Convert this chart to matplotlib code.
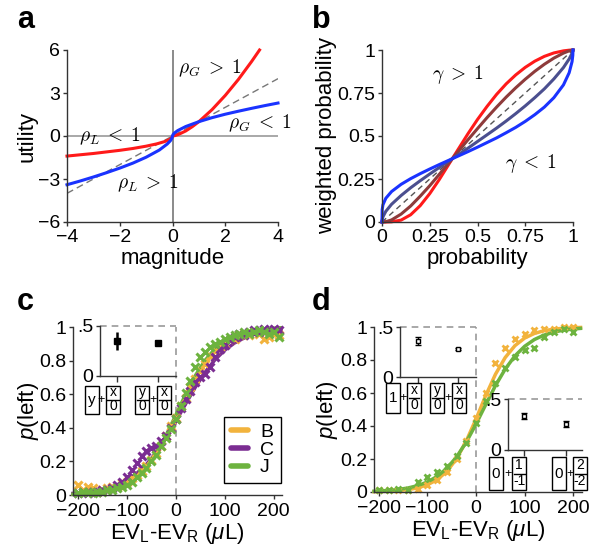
import matplotlib.pyplot as plt
from matplotlib.patches import Rectangle
from matplotlib.lines import Line2D

plt.rcParams['font.family'] = ['Liberation Sans', 'DejaVu Sans']
plt.rcParams['mathtext.fontset'] = 'custom'
plt.rcParams['mathtext.rm'] = 'Liberation Sans'
plt.rcParams['mathtext.it'] = 'Liberation Sans:italic'
plt.rcParams['mathtext.bf'] = 'Liberation Sans:bold'

# ---- panel a: utility curves
red_x = [-4, -3.5, -3, -2.5, -2, -1.5, -1, -0.6, -0.3, -0.1, -0.03, 0,
         0.1, 0.25, 0.5, 0.75, 1, 1.5, 2, 2.5, 3, 3.3]
red_y = [-1.40, -1.31, -1.22, -1.11, -1.00, -0.87, -0.71, -0.55, -0.39, -0.23, -0.13, 0,
         0.03, 0.13, 0.35, 0.65, 1.0, 1.84, 2.83, 3.95, 5.2, 6.0]
blue_x = [-4, -3.5, -3, -2.5, -2, -1.5, -1, -0.5, -0.2, -0.08, -0.02, 0,
          0.02, 0.08, 0.2, 0.5, 1, 1.5, 2, 2.5, 3, 3.5, 4]
blue_y = [-3.40, -3.14, -2.86, -2.56, -2.24, -1.89, -1.48, -0.98, -0.56, -0.33, -0.14, 0,
          0.10, 0.22, 0.38, 0.66, 1.0, 1.28, 1.52, 1.73, 1.93, 2.12, 2.30]

# ---- panel b: probability weighting curves
prob = [0, 0.001, 0.005, 0.02, 0.05, 0.1, 0.15, 0.2, 0.25, 0.3, 0.368, 0.45, 0.5,
        0.55, 0.6, 0.65, 0.7, 0.75, 0.8, 0.85, 0.9, 0.95, 0.98, 0.995, 0.999, 1]
w_red = [0, 0, 0, 0, 0.001, 0.011, 0.042, 0.095, 0.165, 0.247, 0.368, 0.513, 0.596,
         0.672, 0.742, 0.803, 0.855, 0.899, 0.935, 0.963, 0.983, 0.995, 0.999, 1.0, 1.0, 1]
w_brown = [0, 0, 0, 0.002, 0.012, 0.046, 0.093, 0.150, 0.211, 0.277, 0.368, 0.478, 0.543,
           0.607, 0.668, 0.726, 0.780, 0.830, 0.876, 0.917, 0.953, 0.982, 0.995, 0.999, 1.0, 1]
w_slate = [0, 0.014, 0.030, 0.062, 0.103, 0.154, 0.199, 0.240, 0.279, 0.317, 0.368, 0.429, 0.468,
           0.507, 0.546, 0.587, 0.630, 0.675, 0.723, 0.774, 0.832, 0.898, 0.948, 0.981, 0.994, 1]
w_blue = [0, 0.072, 0.100, 0.138, 0.177, 0.219, 0.252, 0.281, 0.308, 0.334, 0.368, 0.409, 0.435,
          0.462, 0.489, 0.519, 0.550, 0.585, 0.624, 0.668, 0.723, 0.797, 0.868, 0.932, 0.969, 1]

# ---- panel c: choice data for monkeys B, C, J
c_x = [-200, -190, -180, -170, -160, -150, -140, -130, -120, -110,
       -100, -90, -80, -70, -60, -50, -40, -30, -20, -10,
       0, 10, 20, 30, 40, 50, 60, 70, 80, 90,
       100, 110, 120, 130, 140, 150, 160, 170, 180, 190, 200, 210]
c_B = [0.06, 0.03, 0.05, 0.04, 0.02, 0.03, 0.04, 0.05, 0.05, 0.07,
       0.08, 0.10, 0.12, 0.14, 0.17, 0.21, 0.25, 0.29, 0.35, 0.41,
       0.46, 0.53, 0.58, 0.64, 0.69, 0.74, 0.78, 0.83, 0.86, 0.88,
       0.90, 0.92, 0.93, 0.95, 0.96, 0.95, 0.97, 0.96, 0.93, 0.94, 0.96, 0.95]
c_C = [0.01, 0.02, 0.01, 0.02, 0.02, 0.03, 0.03, 0.04, 0.06, 0.08,
       0.11, 0.15, 0.19, 0.23, 0.26, 0.28, 0.29, 0.32, 0.35, 0.40,
       0.45, 0.52, 0.57, 0.62, 0.67, 0.70, 0.72, 0.76, 0.82, 0.87,
       0.89, 0.92, 0.94, 0.96, 0.95, 0.97, 0.98, 0.97, 0.99, 0.98, 0.99, 0.98]
c_J = [0.01, 0.02, 0.02, 0.01, 0.02, 0.02, 0.03, 0.03, 0.04, 0.05,
       0.06, 0.08, 0.11, 0.13, 0.16, 0.20, 0.24, 0.29, 0.34, 0.39,
       0.45, 0.53, 0.61, 0.68, 0.76, 0.82, 0.85, 0.88, 0.90, 0.91,
       0.93, 0.94, 0.95, 0.96, 0.97, 0.96, 0.97, 0.98, 0.97, 0.96, 0.97, 0.94]
fit_x = [-210, -200, -180, -160, -140, -120, -100, -80, -60, -40, -20, 0,
         20, 40, 60, 80, 100, 120, 140, 160, 180, 200, 215]
c_fit_B = [0.0058, 0.0074, 0.0118, 0.0189, 0.030, 0.047, 0.074, 0.114, 0.172, 0.251, 0.350, 0.464,
           0.582, 0.692, 0.783, 0.853, 0.904, 0.938, 0.960, 0.975, 0.984, 0.990, 0.993]
c_fit_C = [0.0097, 0.0119, 0.018, 0.027, 0.040, 0.060, 0.088, 0.128, 0.182, 0.253, 0.339, 0.438,
           0.542, 0.642, 0.731, 0.805, 0.862, 0.905, 0.935, 0.956, 0.971, 0.980, 0.986]
c_fit_J = [0.0047, 0.0061, 0.0100, 0.0163, 0.0266, 0.043, 0.069, 0.109, 0.168, 0.250, 0.354, 0.475,
           0.599, 0.711, 0.802, 0.870, 0.917, 0.948, 0.968, 0.980, 0.988, 0.993, 0.995]
c_inset_mean = [0.35, 0.33]
c_inset_err = [0.09, 0.0]
c_terms = [['y'], ['x', '0'], ['y', '0'], ['x', '0']]

# ---- panel d
d_x = [-200, -180, -160, -140, -120, -100, -80, -60, -40, -20, 0,
       20, 40, 60, 80, 100, 120, 140, 160, 180, 200]
d_B = [0.01, 0.01, 0.01, 0.01, 0.02, 0.04, 0.07, 0.12, 0.20, 0.31, 0.45,
       0.60, 0.78, 0.87, 0.93, 0.96, 0.98, 0.99, 0.99, 1.0, 1.0]
d_J = [0.01, 0.01, 0.02, 0.01, 0.06, 0.09, 0.12, 0.16, 0.22, 0.30, 0.42,
       0.55, 0.66, 0.75, 0.82, 0.86, 0.87, 0.94, 0.97, 0.99, 0.97]
d_fit_B = [0.002, 0.0026, 0.0046, 0.0082, 0.0143, 0.0252, 0.0437, 0.0748, 0.125, 0.202, 0.310, 0.443,
           0.585, 0.714, 0.815, 0.887, 0.933, 0.961, 0.9775, 0.987, 0.9927, 0.9959, 0.9973]
d_fit_J = [0.0047, 0.0059, 0.0095, 0.0153, 0.0244, 0.0386, 0.0607, 0.0943, 0.1436, 0.2126, 0.303, 0.412,
           0.530, 0.645, 0.745, 0.825, 0.883, 0.924, 0.951, 0.969, 0.981, 0.988, 0.9915]
d_inset1_mean = [0.36, 0.28]
d_inset1_err = [0.04, 0.01]
d_terms1 = [['1'], ['x', '0'], ['y', '0'], ['x', '0']]
d_inset2_mean = [0.33, 0.255]
d_inset2_err = [0.03, 0.025]
d_terms2 = [['0'], ['1', '-1'], ['0'], ['2', '-2']]

RED, BLUE = '#FF1A1A', '#1A33FF'
BROWN, SLATE = '#8E3B3B', '#4B4F8F'
ORANGE, PURPLE, GREEN = '#F2B33D', '#7B2D92', '#6DB33F'
GRAY = '#9A9A9A'

W, H = 590, 548
fig = plt.figure(figsize=(W / 100, H / 100), dpi=100)


def px_axes(left, right, top, bottom):
    return fig.add_axes([left / W, 1 - bottom / H, (right - left) / W, (bottom - top) / H])


def style(ax, fs=14):
    for s in ['top', 'right']:
        ax.spines[s].set_visible(False)
    for s in ['left', 'bottom']:
        ax.spines[s].set_color('#333333')
        ax.spines[s].set_linewidth(1.0)
    ax.tick_params(direction='out', length=3, width=1, colors='#333333',
                   labelcolor='black', labelsize=fs, pad=2)
    ax.patch.set_visible(False)


def labels(ax, xl, yl, xy, yx):
    ax.set_xlabel(xl, fontsize=16)
    ax.xaxis.set_label_coords(0.5, xy)
    ax.xaxis.label.set_va('center')
    ax.set_ylabel(yl, fontsize=16)
    ax.yaxis.set_label_coords(yx, 0.5)
    ax.yaxis.label.set_va('center')


def draw_terms(terms, lefts, plus_x, y0, y1, w=14):
    # little boxed "reward" symbols under the insets
    for t, x0 in zip(terms, lefts):
        x1 = x0 + w
        fig.add_artist(Rectangle((x0 / W, 1 - y1 / H), w / W, (y1 - y0) / H,
                                 transform=fig.transFigure, fill=False,
                                 edgecolor='black', lw=1))
        xc = (x0 + x1) / 2 / W
        if len(t) == 1:
            fig.text(xc, 1 - (y0 + y1) / 2 / H, t[0], ha='center', va='center', fontsize=11)
        else:
            ym = (y0 + y1) / 2
            fig.add_artist(Line2D([(x0 + 1.5) / W, (x1 - 1.5) / W], [1 - ym / H] * 2,
                                  transform=fig.transFigure, color='black', lw=1))
            fig.text(xc, 1 - (y0 + ym) / 2 / H + 0.001, t[0], ha='center', va='center', fontsize=10)
            fig.text(xc, 1 - (ym + y1) / 2 / H + 0.001, t[1], ha='center', va='center', fontsize=10)
    for px in plus_x:
        fig.text(px / W, 1 - (y0 + y1) / 2 / H, '+', ha='center', va='center', fontsize=9)


def inset(left, right, top, bottom, xlim, mean, err, filled):
    ia = px_axes(left, right, top, bottom)
    style(ia, fs=14)
    ia.set_xlim(*xlim)
    ia.set_ylim(0, 0.5)
    ia.set_yticks([0, 0.5])
    ia.set_yticklabels(['0', '.5'])
    ia.set_xticks([0, 1])
    ia.set_xticklabels([])
    ia.tick_params(axis='x', length=4)
    ia.axhline(0.5, color=GRAY, lw=1.2, dashes=(4, 3), clip_on=False)
    if filled:
        ia.errorbar([0, 1], mean, yerr=err, fmt='s', color='black', ms=5,
                    elinewidth=1.8, capsize=0, clip_on=False)
    else:
        ia.errorbar([0, 1], mean, yerr=err, fmt='s', color='black', mfc='white',
                    ms=3.5, mew=1, elinewidth=1, capsize=2, clip_on=False)
    return ia


# ================= panel a
ax = px_axes(67, 278, 50, 222)
style(ax)
ax.axhline(0, color=GRAY, lw=1.2)
ax.axvline(0, color='#777777', lw=1.2)
ax.plot([-4, 4], [-4, 4], color='#777777', lw=1, dashes=(5, 3))
ax.plot(red_x, red_y, color=RED, lw=2.2, clip_on=False, solid_joinstyle='round')
ax.plot(blue_x, blue_y, color=BLUE, lw=2.2, clip_on=False, solid_joinstyle='round')
ax.set_xlim(-4, 4)
ax.set_ylim(-6, 6)
ax.set_xticks([-4, -2, 0, 2, 4])
ax.set_yticks([-6, -3, 0, 3, 6])
ax.text(0.2, 4.7, r'$\rho_G\;>\;1$', fontsize=14, math_fontfamily='cm', va='center')
ax.text(2.1, 0.9, r'$\rho_G\;<\;1$', fontsize=14, math_fontfamily='cm', va='center')
ax.text(-3.55, -0.05, r'$\rho_L\;<\;1$', fontsize=14, math_fontfamily='cm', va='center')
ax.text(-2.12, -3.29, r'$\rho_L\;>\;1$', fontsize=14, math_fontfamily='cm', va='center')
labels(ax, 'magnitude', 'utility', -0.215, -0.19)

# ================= panel b
ax = px_axes(382, 573, 50, 222)
style(ax)
ax.plot([0, 1], [0, 1], color='#555555', lw=1, dashes=(4, 3))
for w, col in [(w_red, RED), (w_brown, BROWN), (w_slate, SLATE), (w_blue, BLUE)]:
    ax.plot(prob, w, color=col, lw=2.2, clip_on=False, solid_joinstyle='round')
ax.set_xlim(0, 1)
ax.set_ylim(0, 1)
ticks = [0, 0.25, 0.5, 0.75, 1]
ax.set_xticks(ticks)
ax.set_xticklabels(['0', '0.25', '0.5', '0.75', '1'])
ax.set_yticks(ticks)
ax.set_yticklabels(['0', '0.25', '0.5', '0.75', '1'])
ax.text(0.26, 0.855, r'$\gamma\;>\;1$', fontsize=14, math_fontfamily='cm', va='center')
ax.text(0.645, 0.343, r'$\gamma\;<\;1$', fontsize=14, math_fontfamily='cm', va='center')
labels(ax, 'probability', 'weighted probability', -0.215, -0.288)

xlab = r'EV$_{\rm L}$-EV$_{\rm R}$ ($\mu$L)'
ylab = r'$p$(left)'

# ================= panel c
ax = px_axes(73, 282, 327, 495)
style(ax)
ax.tick_params(axis='x', pad=3)
ax.axvline(0, color=GRAY, lw=1.2, dashes=(4, 3))
for fy, col in [(c_fit_B, ORANGE), (c_fit_C, PURPLE), (c_fit_J, GREEN)]:
    ax.plot(fit_x, fy, color=col, lw=2.5, clip_on=False)
for dy, col in [(c_B, ORANGE), (c_C, PURPLE), (c_J, GREEN)]:
    ax.plot(c_x, dy, ls='none', marker='x', ms=5.5, mew=2.2, color=col, clip_on=False)
ax.set_xlim(-210, 217)
ax.set_ylim(0, 1)
ax.set_xticks([-200, -100, 0, 100, 200])
ax.set_yticks([0, 0.2, 0.4, 0.6, 0.8, 1])
ax.set_yticklabels(['0', '0.2', '0.4', '0.6', '0.8', '1'])
labels(ax, xlab, ylab, -0.228, -0.215)
handles = [Line2D([], [], color=c, lw=4, solid_capstyle='round') for c in (ORANGE, PURPLE, GREEN)]
leg = ax.legend(handles, ['B', 'C', 'J'], loc='lower right', bbox_to_anchor=(0.995, 0.07),
                borderaxespad=0, fontsize=14, handlelength=0.9, handletextpad=0.6,
                labelspacing=0.0, fancybox=False, framealpha=1, edgecolor='black',
                borderpad=0.35)
leg.get_frame().set_linewidth(1)

inset(100, 176, 326, 376, (-0.415, 1.44), c_inset_mean, c_inset_err, True)
draw_terms(c_terms, [85, 106, 135, 157], [101.5, 153], 386, 414)

# ================= panel d
ax = px_axes(374, 582, 327, 492)
style(ax)
ax.tick_params(axis='x', pad=3)
ax.axvline(0, color=GRAY, lw=1.2, dashes=(4, 3))
for fy, col in [(d_fit_B, ORANGE), (d_fit_J, GREEN)]:
    ax.plot(fit_x, fy, color=col, lw=2.5, clip_on=False)
for dy, col in [(d_B, ORANGE), (d_J, GREEN)]:
    ax.plot(d_x, dy, ls='none', marker='x', ms=5, mew=2, color=col, clip_on=False)
ax.set_xlim(-210, 218)
ax.set_ylim(0, 1)
ax.set_xticks([-200, -100, 0, 100, 200])
ax.set_yticks([0, 0.2, 0.4, 0.6, 0.8, 1])
ax.set_yticklabels(['0', '0.2', '0.4', '0.6', '0.8', '1'])
labels(ax, xlab, ylab, -0.232, -0.222)

inset(400, 476, 327, 377, (-0.45, 1.45), d_inset1_mean, d_inset1_err, False)
draw_terms(d_terms1, [386, 407, 430, 452], [403.5, 448], 383, 413)
inset(508, 582, 399, 450, (-0.381, 1.381), d_inset2_mean, d_inset2_err, False)
draw_terms(d_terms2, [489, 512, 552, 573], [508, 570], 457, 490)

# panel letters
for letter, x, y in [('a', 17, 28), ('b', 312, 28), ('c', 17, 310), ('d', 312, 310)]:
    fig.text(x / W, 1 - y / H, letter, fontsize=22, fontweight='bold', va='baseline', ha='left')

fig.savefig('out.png', dpi=100)
